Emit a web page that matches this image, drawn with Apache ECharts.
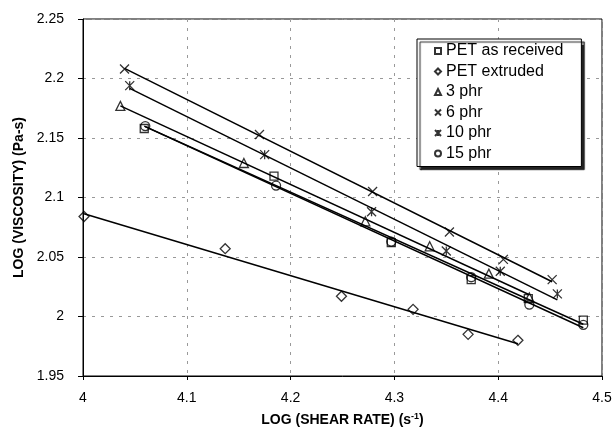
<!DOCTYPE html>
<html>
<head>
<meta charset="utf-8">
<script src="https://cdn.jsdelivr.net/npm/echarts@6/dist/echarts.min.js"></script>
<style>
	html, body { margin: 0; padding: 0; background: #fff; }
	#chart { width: 615px; height: 437px; }
</style>
</head>
<body>
<div id="chart"></div>
<script>
// 数据
var seriesNames = ['PET as received', 'PET extruded', '3 phr', '6 phr', '10 phr', '15 phr'];

var petRecX = [4.059, 4.184, 4.297, 4.374, 4.429, 4.482];
var petRecY = [2.158, 2.118, 2.062, 2.031, 2.015, 1.997];

var petExtX = [4.001, 4.137, 4.249, 4.318, 4.371, 4.419];
var petExtY = [2.084, 2.057, 2.017, 2.006, 1.985, 1.980];

var phr3X = [4.036, 4.155, 4.272, 4.334, 4.391, 4.430];
var phr3Y = [2.177, 2.129, 2.080, 2.059, 2.036, 2.016];

var phr6X = [4.040, 4.170, 4.279, 4.353, 4.405, 4.452];
var phr6Y = [2.208, 2.153, 2.105, 2.071, 2.048, 2.031];

var phr10X = [4.045, 4.175, 4.278, 4.350, 4.402, 4.457];
var phr10Y = [2.194, 2.136, 2.088, 2.055, 2.038, 2.019];

var phr15X = [4.060, 4.186, 4.297, 4.374, 4.430, 4.482];
var phr15Y = [2.160, 2.110, 2.063, 2.033, 2.010, 1.993];

var xTicks = [4, 4.1, 4.2, 4.3, 4.4, 4.5];
var yTicks = [1.95, 2, 2.05, 2.1, 2.15, 2.2, 2.25];

var FONT = '"Liberation Sans", Arial, sans-serif';

// 线性趋势线 (least squares, over the data range)
function trend(xs, ys){
	var n = xs.length, sx = 0, sy = 0, sxx = 0, sxy = 0;
	for (var i = 0; i < n; i++) { sx += xs[i]; sy += ys[i]; sxx += xs[i]*xs[i]; sxy += xs[i]*ys[i]; }
	var b = (n*sxy - sx*sy) / (n*sxx - sx*sx);
	var a = (sy - b*sx) / n;
	var x0 = Math.min.apply(null, xs), x1 = Math.max.apply(null, xs);
	return [[x0, a + b*x0], [x1, a + b*x1]];
}
function pairs(xs, ys){
	return xs.map(function(x, i){ return [x, ys[i]]; });
}

var xPath = 'path://M0 0L10 10M10 0L0 10';
var starPath = 'path://M0 0L10 10M10 0L0 10M5 0L5 10';

var groups = [
	{ name: seriesNames[0], x: petRecX, y: petRecY, symbol: 'rect', size: 8 },
	{ name: seriesNames[1], x: petExtX, y: petExtY, symbol: 'diamond', size: 10 },
	{ name: seriesNames[2], x: phr3X, y: phr3Y, symbol: 'triangle', size: 9 },
	{ name: seriesNames[3], x: phr6X, y: phr6Y, symbol: xPath, size: 9 },
	{ name: seriesNames[4], x: phr10X, y: phr10Y, symbol: starPath, size: 9 },
	{ name: seriesNames[5], x: phr15X, y: phr15Y, symbol: 'circle', size: 9 }
];

var series = [];
groups.forEach(function(g){
	series.push({
		name: g.name + ' trend',
		type: 'line',
		data: trend(g.x, g.y),
		symbol: 'none',
		silent: true,
		lineStyle: { color: '#000', width: 1.5 },
		z: 2
	});
});
groups.forEach(function(g){
	series.push({
		name: g.name,
		type: 'scatter',
		data: pairs(g.x, g.y),
		symbol: g.symbol,
		symbolSize: g.size,
		itemStyle: { color: 'transparent', borderColor: '#000', borderWidth: 1.3 },
		z: 3
	});
});

var myChart = echarts.init(document.getElementById('chart'));
var option = {
	backgroundColor: '#fff',
	animation: false,
	textStyle: { fontFamily: FONT },
	grid: {
		left: 83, top: 19, right: 13, bottom: 61,
		show: true,
		borderColor: '#000',
		borderWidth: 1
	},
	legend: {
		orient: 'vertical',
		left: 417,
		top: 39,
		padding: [4, 18, 5, 17],
		itemGap: 4.5,
		itemWidth: 6,
		itemHeight: 6,
		backgroundColor: '#fff',
		borderColor: '#000',
		borderWidth: 1,
		shadowColor: '#222',
		shadowBlur: 1,
		shadowOffsetX: 3,
		shadowOffsetY: 3,
		textStyle: { fontFamily: FONT, fontSize: 16, color: '#000' },
		data: seriesNames
	},
	xAxis: {
		type: 'value',
		min: xTicks[0],
		max: xTicks[xTicks.length - 1],
		interval: 0.1,
		name: 'LOG (SHEAR RATE) (s{sup|-1})',
		nameLocation: 'middle',
		nameGap: 36,
		nameTextStyle: {
			fontFamily: FONT, fontSize: 14, fontWeight: 'bold', color: '#000',
			rich: { sup: { fontFamily: FONT, fontSize: 9, fontWeight: 'bold', color: '#000', padding: [0, 0, 8, 0] } }
		},
		axisLine: { lineStyle: { color: '#000', width: 1 } },
		axisTick: { show: true, length: 4, lineStyle: { color: '#000' } },
		axisLabel: { fontFamily: FONT, fontSize: 14, color: '#000', margin: 15 },
		splitLine: { show: true, lineStyle: { color: '#999', type: [3, 6], width: 1 } }
	},
	yAxis: {
		type: 'value',
		min: yTicks[0],
		max: yTicks[yTicks.length - 1],
		interval: 0.05,
		name: 'LOG (VISCOSITY) (Pa-s)',
		nameLocation: 'middle',
		nameRotate: 90,
		nameGap: 51,
		nameTextStyle: { fontFamily: FONT, fontSize: 14, fontWeight: 'bold', color: '#000' },
		axisLine: { show: true, lineStyle: { color: '#000', width: 1 } },
		axisTick: { show: true, length: 5, lineStyle: { color: '#000' } },
		axisLabel: { fontFamily: FONT, fontSize: 14, color: '#000', margin: 19 },
		splitLine: { show: true, lineStyle: { color: '#999', type: [3, 6], width: 1 } }
	},
	series: series
};
myChart.setOption(option);
</script>
</body>
</html>
